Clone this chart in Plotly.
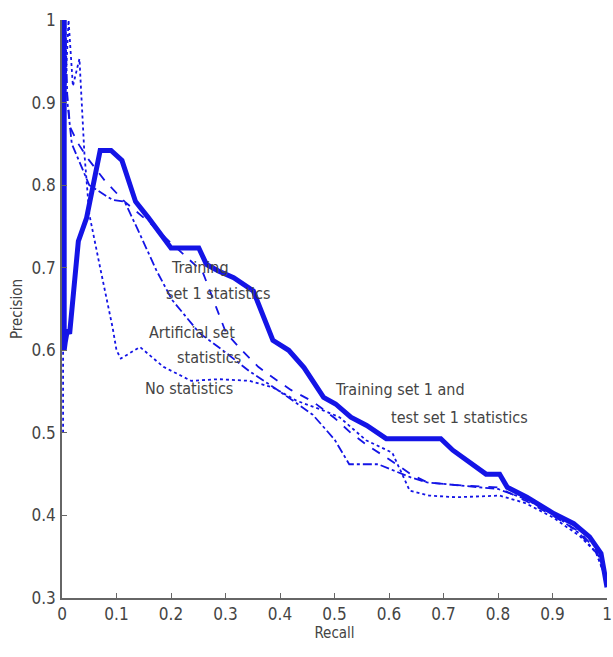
import plotly.graph_objects as go

# ---- data ----
both_x = [0.004, 0.004, 0.006, 0.010, 0.014, 0.030, 0.045, 0.070, 0.090, 0.110, 0.135, 0.158, 0.186, 0.200,
          0.251, 0.265, 0.287, 0.315, 0.351, 0.387, 0.416, 0.444, 0.480, 0.502, 0.530, 0.559, 0.595,
          0.695, 0.717, 0.778, 0.803, 0.817, 0.853, 0.903, 0.939, 0.968, 0.989, 1.000]
both_y = [1.000, 0.600, 0.610, 0.625, 0.620, 0.732, 0.760, 0.842, 0.842, 0.830, 0.780, 0.761, 0.737, 0.724,
          0.724, 0.704, 0.696, 0.688, 0.672, 0.612, 0.600, 0.579, 0.543, 0.535, 0.519, 0.509, 0.493,
          0.493, 0.479, 0.450, 0.450, 0.434, 0.422, 0.402, 0.390, 0.374, 0.354, 0.313]

train_x = [0.004, 0.008, 0.015, 0.030, 0.050, 0.079, 0.115, 0.160, 0.200, 0.258, 0.283, 0.301, 0.330,
           0.360, 0.387, 0.420, 0.460, 0.500, 0.530, 0.560, 0.600, 0.640, 0.670, 0.720, 0.800, 0.850,
           0.900, 0.950, 0.980, 1.000]
train_y = [1.000, 0.920, 0.870, 0.850, 0.830, 0.805, 0.780, 0.755, 0.730, 0.695, 0.652, 0.621, 0.600,
           0.580, 0.567, 0.552, 0.538, 0.518, 0.500, 0.485, 0.468, 0.450, 0.440, 0.437, 0.434, 0.418,
           0.400, 0.380, 0.358, 0.325]

art_x = [0.006, 0.010, 0.018, 0.050, 0.093, 0.115, 0.142, 0.173, 0.202, 0.252, 0.301, 0.343, 0.400,
         0.460, 0.500, 0.527, 0.580, 0.640, 0.670, 0.750, 0.800, 0.850, 0.900, 0.950, 0.980, 1.000]
art_y = [1.000, 0.900, 0.850, 0.800, 0.782, 0.780, 0.742, 0.697, 0.661, 0.621, 0.597, 0.575, 0.550,
         0.522, 0.492, 0.462, 0.462, 0.446, 0.440, 0.435, 0.432, 0.420, 0.402, 0.378, 0.355, 0.320]

none_x = [0.002, 0.002, 0.005, 0.012, 0.020, 0.032, 0.041, 0.050, 0.070, 0.093, 0.100, 0.108, 0.143,
          0.186, 0.237, 0.287, 0.344, 0.387, 0.430, 0.480, 0.509, 0.558, 0.606, 0.638, 0.674, 0.724,
          0.803, 0.850, 0.900, 0.950, 0.980, 1.000]
none_y = [0.500, 0.600, 0.900, 1.000, 0.920, 0.953, 0.839, 0.765, 0.700, 0.627, 0.600, 0.590, 0.604,
          0.580, 0.563, 0.565, 0.563, 0.555, 0.539, 0.527, 0.519, 0.491, 0.476, 0.430, 0.424, 0.422,
          0.424, 0.415, 0.398, 0.375, 0.355, 0.320]

x_ticks = [0, 0.1, 0.2, 0.3, 0.4, 0.5, 0.6, 0.7, 0.8, 0.9, 1]
x_tick_text = ["0", "0.1", "0.2", "0.3", "0.4", "0.5", "0.6", "0.7", "0.8", "0.9", "1"]
y_ticks = [0.3, 0.4, 0.5, 0.6, 0.7, 0.8, 0.9, 1.0]
y_tick_text = ["0.3", "0.4", "0.5", "0.6", "0.7", "0.8", "0.9", "1"]

labels = [
    ("Training", 0.254, 0.700),
    ("set 1 statistics", 0.287, 0.669),
    ("Artificial set", 0.238, 0.621),
    ("statistics", 0.270, 0.591),
    ("No statistics", 0.233, 0.554),
    ("Training set 1 and", 0.620, 0.552),
    ("test set 1 statistics", 0.729, 0.519),
]

BLUE = "#1414e6"
FONT = "Liberation Sans Narrow, DejaVu Sans Condensed, Arial Narrow, sans-serif"
GRAY = "#444444"

fig = go.Figure()
fig.add_trace(go.Scatter(x=none_x, y=none_y, mode="lines",
                         line=dict(color=BLUE, width=1.8, dash="dot"), name="No statistics"))
fig.add_trace(go.Scatter(x=art_x, y=art_y, mode="lines",
                         line=dict(color=BLUE, width=1.8, dash="dashdot"), name="Artificial set statistics"))
fig.add_trace(go.Scatter(x=train_x, y=train_y, mode="lines",
                         line=dict(color=BLUE, width=1.8, dash="dash"), name="Training set 1 statistics"))
fig.add_trace(go.Scatter(x=both_x, y=both_y, mode="lines",
                         line=dict(color=BLUE, width=5), name="Training set 1 and test set 1 statistics"))

for txt, lx, ly in labels:
    fig.add_annotation(x=lx, y=ly, text=txt, showarrow=False, xanchor="center", yanchor="middle",
                       font=dict(family=FONT, size=16, color=GRAY))

fig.update_layout(
    width=613, height=657,
    margin=dict(l=62, r=6, t=20, b=59, autoexpand=False),
    paper_bgcolor="white", plot_bgcolor="white",
    showlegend=False,
    font=dict(family=FONT, size=15, color=GRAY),
)
fig.update_xaxes(range=[0, 1], tickvals=x_ticks, ticktext=x_tick_text,
                 showgrid=False, zeroline=False, showline=True, linecolor="#666666", linewidth=1.5,
                 ticks="inside", ticklen=5, tickcolor="#666666", ticklabeloverflow="allow",
                 tickfont=dict(family=FONT, size=17, color=GRAY),
                 title=dict(text="Recall", font=dict(family=FONT, size=15, color=GRAY), standoff=4))
fig.update_yaxes(range=[0.3, 1], tickvals=y_ticks, ticktext=y_tick_text,
                 showgrid=False, zeroline=False, showline=True, linecolor="#666666", linewidth=1.5,
                 ticks="inside", ticklen=5, tickcolor="#666666", ticklabelstandoff=1,
                 ticklabeloverflow="allow",
                 tickfont=dict(family=FONT, size=17, color=GRAY),
                 title=dict(text="Precision", font=dict(family=FONT, size=15, color=GRAY), standoff=5))

fig.write_html("out.html", config={"displayModeBar": False},
               post_script="document.body.style.margin='0';document.body.style.overflow='hidden';")
